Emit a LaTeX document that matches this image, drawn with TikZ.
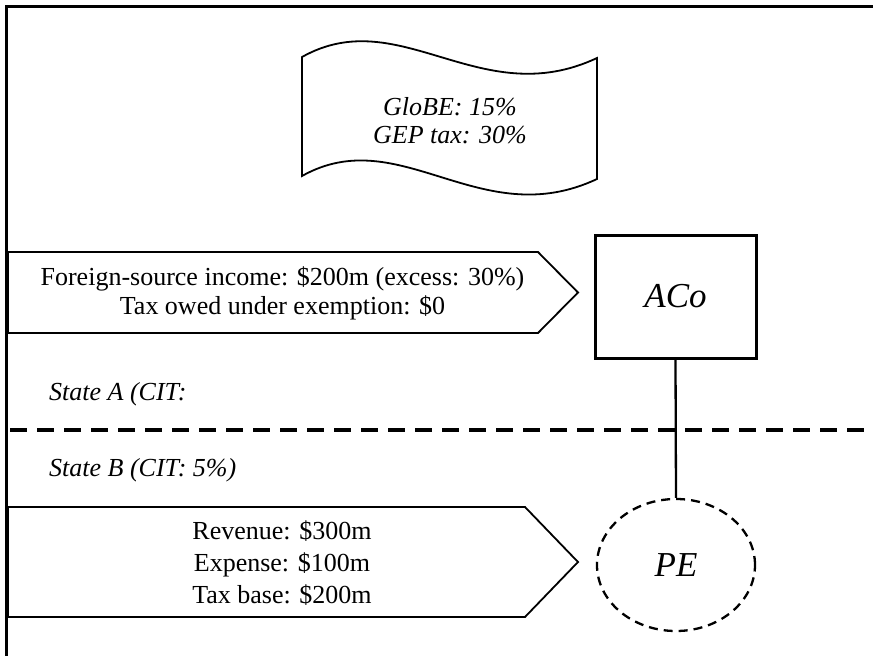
\documentclass[tikz,border=0pt]{standalone}
\usepackage{fontspec}
\setmainfont{Liberation Serif}
\usetikzlibrary{shapes.geometric}
\begin{document}
\begin{tikzpicture}[x=1pt,y=-1pt,
  bodytext/.style={font=\fontsize{26}{29}\selectfont, align=center, inner sep=0pt},
  itext/.style={font=\fontsize{26}{28}\selectfont\itshape, align=center, inner sep=0pt},
  bigtext/.style={font=\fontsize{35}{40}\selectfont\itshape, inner sep=0pt},
  pent/.style={draw, line width=1.8pt, line join=miter},
  entitybox/.style={draw, line width=3pt, rectangle, minimum width=161pt, minimum height=123pt, bigtext},
  peshape/.style={draw, line width=2.3pt, ellipse, dash pattern=on 9pt off 6pt, minimum width=158pt, minimum height=132pt, bigtext},
  link/.style={draw, line width=2.3pt}
]
\useasboundingbox (0,0) rectangle (873,656);
\fill[white] (0,0) rectangle (873,656);
% frame
\draw[line width=3pt] (873,6) -- (6,6) -- (6,656);
% wave (document) shape
\draw[line width=1.8pt, line join=miter] (302,57) .. controls (400,2) and (480,113) .. (597,58) -- (597,179) .. controls (480,234) and (400,121) .. (302,176) -- cycle;
\node[itext] (globe) at (450,121) {GloBE: 15\%\\GEP tax: 30\%};
% top pentagon
\draw[pent] (8,252) -- (538,252) -- (578,292.5) -- (538,333) -- (8,333) -- cycle;
\node[bodytext] (fsi) at (282.5,293) {Foreign-source income: \$200m (excess: 30\%)\\Tax owed under exemption: \$0};
% ACo
\node[entitybox] (aco) at (675.5,296.5) {ACo};
% state labels
\node[itext, anchor=west] (stateA) at (49,394) {State A (CIT:};
\node[itext, anchor=west] (stateB) at (49,470) {State B (CIT: 5\%)};
% separator
\coordinate (sepL) at (10,430);
\coordinate (sepR) at (873,430);
\draw[line width=4pt, dash pattern=on 17pt off 10pt] (sepL) -- (sepR);
% bottom pentagon
\draw[pent] (8,507) -- (525,507) -- (578,562) -- (525,617) -- (8,617) -- cycle;
\node[bodytext, font=\fontsize{26}{32}\selectfont] (rev) at (282,563) {Revenue: \$300m\\Expense: \$100m\\Tax base: \$200m};
% PE
\node[peshape] (pe) at (676,565) {PE};
\draw[link] (aco.south) -- (pe.north);
\end{tikzpicture}
\end{document}
